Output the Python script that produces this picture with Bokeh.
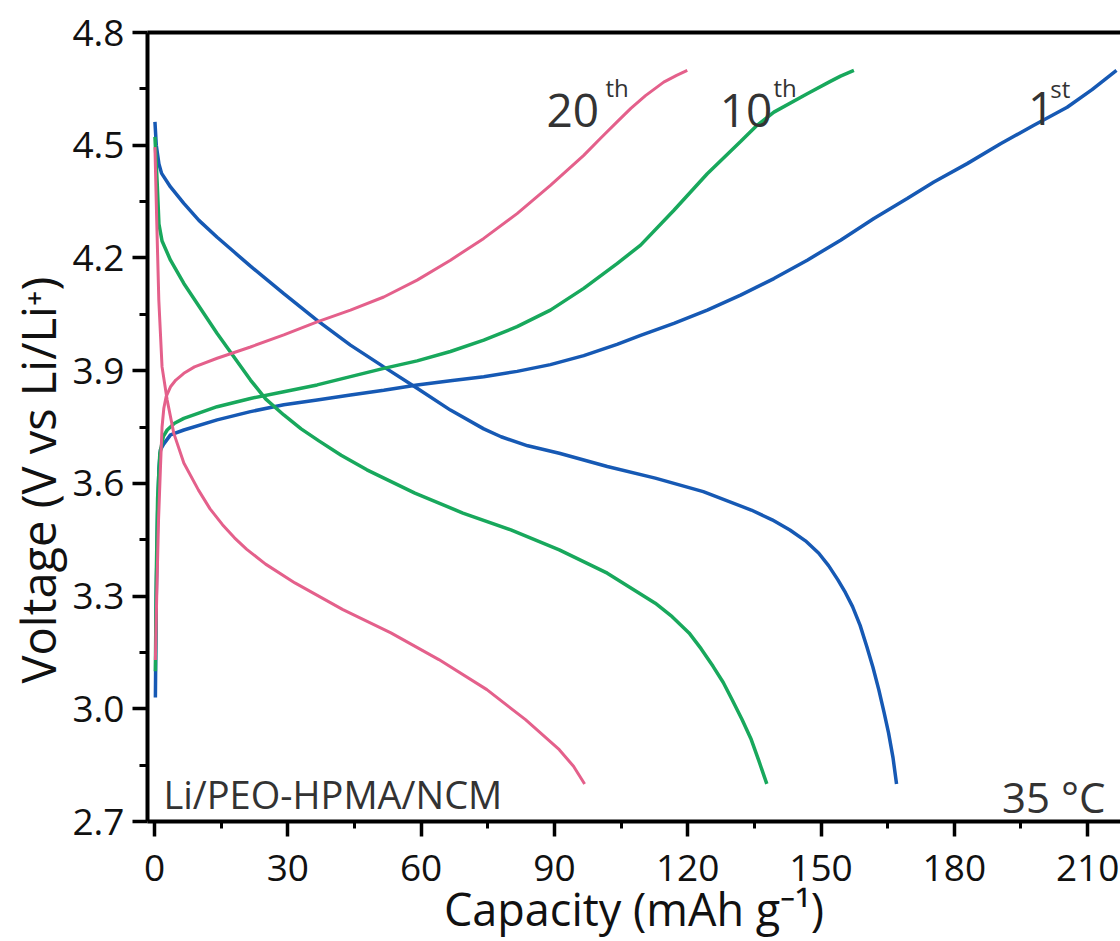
from bokeh.plotting import figure
from bokeh.models import (FixedTicker, PrintfTickFormatter, LinearAxis, Label, Title)
from bokeh.embed import file_html
from bokeh.resources import INLINE

# ---------------- data ----------------
# 1st cycle
cap_1st_charge = [0.2, 0.4, 0.7, 1.0, 1.35, 2.1, 3.6, 6.6, 14.1, 21.6, 29.1, 36.6, 44.1, 51.6,
                  59.1, 66.6, 74.1, 81.6, 89.1, 96.6, 104.1, 109.4, 116.9, 124.4, 131.9, 139.4,
                  146.9, 154.4, 161.9, 169.4, 175.4, 182.9, 190.4, 197.9, 205.4, 211.0, 216.5]
volt_1st_charge = [3.03, 3.30, 3.52, 3.64, 3.69, 3.705, 3.729, 3.742, 3.769, 3.791, 3.809, 3.822,
                   3.835, 3.848, 3.862, 3.873, 3.884, 3.898, 3.916, 3.940, 3.970, 3.994, 4.026,
                   4.061, 4.101, 4.145, 4.194, 4.247, 4.305, 4.358, 4.402, 4.451, 4.504, 4.553,
                   4.601, 4.648, 4.699]
cap_1st_discharge = [0.1, 0.4, 1.0, 1.6, 3.6, 6.6, 10.0, 14.1, 18.0, 21.6, 29.1, 36.6, 44.1, 51.6,
                     59.1, 66.6, 74.1, 78.0, 84.0, 91.1, 101.9, 112.7, 123.5, 134.3, 139.0, 143.0,
                     146.5, 149.5, 151.7, 153.8, 155.5, 157.1, 158.8, 160.3, 161.7, 163.0, 164.2,
                     165.2, 166.2, 167.0]
volt_1st_discharge = [4.562, 4.50, 4.45, 4.425, 4.389, 4.345, 4.300, 4.255, 4.215, 4.178, 4.105,
                      4.034, 3.968, 3.910, 3.853, 3.795, 3.745, 3.724, 3.700, 3.680, 3.645, 3.614,
                      3.578, 3.529, 3.503, 3.476, 3.447, 3.414, 3.381, 3.343, 3.309, 3.272, 3.222,
                      3.166, 3.110, 3.051, 2.990, 2.936, 2.870, 2.80]

# 10th cycle
cap_10th_charge = [0.2, 0.4, 0.7, 1.2, 2.0, 2.85, 4.5, 6.6, 14.1, 21.6, 29.1, 36.6, 44.1, 51.6,
                   59.1, 66.6, 74.1, 81.6, 89.1, 96.6, 104.1, 109.4, 116.9, 124.4, 131.9, 135.5,
                   139.4, 146.9, 152.1, 154.4, 157.4]
volt_10th_charge = [3.10, 3.35, 3.56, 3.68, 3.725, 3.742, 3.760, 3.773, 3.804, 3.826, 3.844, 3.862,
                    3.884, 3.906, 3.926, 3.951, 3.981, 4.017, 4.061, 4.119, 4.185, 4.234, 4.327,
                    4.424, 4.510, 4.552, 4.588, 4.637, 4.670, 4.684, 4.699]
cap_10th_discharge = [0.1, 0.6, 1.0, 1.7, 3.6, 6.6, 14.1, 21.6, 25.0, 29.1, 33.0, 37.0, 42.0, 47.8,
                      58.6, 69.4, 80.2, 91.1, 101.9, 112.7, 116.5, 120.3, 123.0, 125.7, 128.0,
                      130.0, 132.2, 134.3, 136.0, 137.8]
volt_10th_discharge = [4.522, 4.40, 4.29, 4.245, 4.194, 4.132, 3.999, 3.875, 3.825, 3.782, 3.745,
                       3.713, 3.675, 3.636, 3.574, 3.521, 3.476, 3.423, 3.361, 3.281, 3.245, 3.202,
                       3.160, 3.113, 3.070, 3.024, 2.972, 2.918, 2.862, 2.80]

# 20th cycle
cap_20th_charge = [0.2, 0.5, 0.9, 1.35, 1.7, 2.1, 2.6, 3.6, 4.8, 6.6, 9.0, 14.1, 21.6, 29.1, 36.6,
                   44.1, 51.6, 59.1, 66.6, 74.1, 81.6, 89.1, 96.6, 100.5, 104.1, 107.2, 110.5,
                   114.6, 117.5, 119.9]
volt_20th_charge = [3.13, 3.30, 3.50, 3.645, 3.75, 3.80, 3.830, 3.857, 3.875, 3.893, 3.910, 3.933,
                    3.963, 3.995, 4.030, 4.061, 4.096, 4.141, 4.194, 4.252, 4.318, 4.393, 4.473,
                    4.520, 4.562, 4.598, 4.632, 4.668, 4.686, 4.699]
cap_20th_discharge = [0.1, 0.5, 0.97, 1.7, 2.85, 4.35, 6.6, 9.9, 12.5, 15.3, 18.0, 20.7, 25.0,
                      31.6, 42.4, 53.2, 64.0, 74.8, 83.5, 91.1, 94.3, 96.8]
volt_20th_discharge = [4.495, 4.30, 4.088, 3.910, 3.822, 3.733, 3.654, 3.582, 3.532, 3.490, 3.455,
                       3.425, 3.385, 3.335, 3.264, 3.202, 3.131, 3.051, 2.971, 2.891, 2.847, 2.80]

x_ticks = [0, 30, 60, 90, 120, 150, 180, 210]
x_minor_ticks = [15, 45, 75, 105, 135, 165, 195]
y_ticks = [2.7, 3.0, 3.3, 3.6, 3.9, 4.2, 4.5, 4.8]
y_minor_ticks = [2.85, 3.15, 3.45, 3.75, 4.05, 4.35, 4.65]

x_label = "Capacity (mAh g\u207b\u00b9)"
y_label = "Voltage (V vs Li/Li\u207a)"
cell_label = "Li/PEO-HPMA/NCM"
temp_label = "35 \u00b0C"

# ---------------- styling ----------------
FONT = "Open Sans"
BLUE = "#1659b4"
GREEN = "#18a85c"
PINK = "#e4608b"
TXT = "#333333"

p = figure(width=1120, height=941, output_backend="svg", toolbar_location=None,
           x_range=(-1.575, 217.4), y_range=(2.7, 4.8),
           min_border_left=147, min_border_right=0, min_border_top=32, min_border_bottom=119,
           x_axis_label=x_label)
p.outline_line_color = None
p.grid.visible = False
p.background_fill_color = "white"
p.border_fill_color = "white"

p.xaxis.ticker = FixedTicker(ticks=x_ticks, minor_ticks=x_minor_ticks)
p.yaxis.ticker = FixedTicker(ticks=y_ticks, minor_ticks=y_minor_ticks)
p.xaxis.formatter = PrintfTickFormatter(format="%d")
p.yaxis.formatter = PrintfTickFormatter(format="%.1f")

for ax in (p.xaxis[0], p.yaxis[0]):
    ax.axis_line_width = 4
    ax.axis_line_color = "black"
    ax.major_tick_line_width = 3.5
    ax.minor_tick_line_width = 3
    ax.major_tick_line_color = "black"
    ax.minor_tick_line_color = "black"
    ax.major_tick_in = 0
    ax.minor_tick_in = 0
    ax.major_label_text_font = FONT
    ax.major_label_text_font_size = "37px"
    ax.major_label_text_color = "#111111"

p.xaxis.axis_label_text_font = FONT
p.xaxis.axis_label_text_font_size = "45px"
p.xaxis.axis_label_text_font_style = "normal"
p.xaxis.axis_label_text_color = "#111111"
p.xaxis.axis_label_standoff = -6

p.yaxis.major_tick_out = 15
p.yaxis.minor_tick_out = 8
p.yaxis.major_label_standoff = 8
p.xaxis.major_tick_out = 15
p.xaxis.minor_tick_out = 7
p.xaxis.major_label_standoff = 18

top_axis = LinearAxis(ticker=FixedTicker(ticks=[]), axis_line_width=4, axis_line_color="black",
                      major_tick_line_color=None, minor_tick_line_color=None,
                      major_label_text_font_size="0px")
p.add_layout(top_axis, "above")

# y-axis title as a vertical Title; align="left" + offset places it from the bottom
p.add_layout(Title(text=y_label, text_font=FONT, text_font_size="47px",
                   text_font_style="normal", text_color="#111111",
                   align="left", offset=138, standoff=0), "left")

p.line(cap_1st_charge, volt_1st_charge, line_color=BLUE, line_width=3.5)
p.line(cap_1st_discharge, volt_1st_discharge, line_color=BLUE, line_width=3.5)
p.line(cap_10th_charge, volt_10th_charge, line_color=GREEN, line_width=3.5)
p.line(cap_10th_discharge, volt_10th_discharge, line_color=GREEN, line_width=3.5)
p.line(cap_20th_charge, volt_20th_charge, line_color=PINK, line_width=3)
p.line(cap_20th_discharge, volt_20th_discharge, line_color=PINK, line_width=3)

def lab(x, y, text, size, align="left"):
    p.add_layout(Label(x=x, y=y, text=text, text_font=FONT, text_font_size=size,
                       text_color=TXT, text_align=align, text_baseline="alphabetic"))

lab(88.2, 4.593, "20", "46px")
lab(101.5, 4.654, "th", "24px")
lab(127.2, 4.593, "10", "46px")
lab(139.3, 4.654, "th", "24px")
lab(196.6, 4.598, "1", "46px")
lab(201.6, 4.651, "st", "24px")
lab(2.0, 2.772, cell_label, "38px")
lab(214.0, 2.767, temp_label, "42px", align="right")

open("out.html", "w").write(file_html(p, INLINE))
